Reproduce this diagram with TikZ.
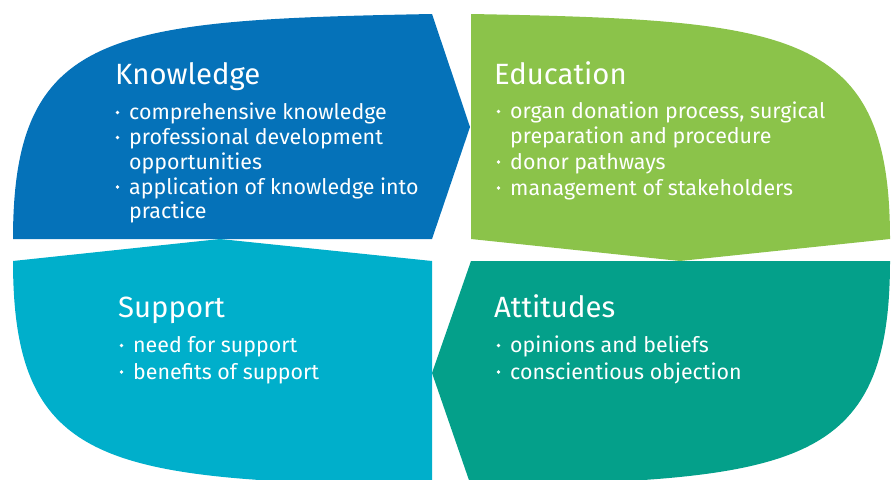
\documentclass[tikz,border=0pt]{standalone}
\usepackage{fontspec}
\setmainfont{Fira Sans}

\definecolor{knowblue}{RGB}{5,114,185}
\definecolor{edugreen}{RGB}{139,195,74}
\definecolor{attteal}{RGB}{4,160,138}
\definecolor{suppcyan}{RGB}{0,175,203}

\newcommand\lines[1]{\begin{tabular}[t]{@{}l@{}}#1\end{tabular}}
% name, x, baseline y, text
\newcommand\bitem[4]{%
  \node[item] (#1) at (#2,#3) {\lines{#4}};
  \fill[dot] ([shift={(-11.5,-7)}]#1.base west) circle (1.8);
}

\begin{document}
\begin{tikzpicture}[x=1pt,y=-1pt,
  title/.style={anchor=base west,inner sep=0pt,text=white,font=\fontsize{29.3}{31}\selectfont},
  item/.style={anchor=base west,inner sep=0pt,text=white,font=\fontsize{21.4}{24.5}\selectfont},
  dot/.style={fill=white}
]
\useasboundingbox (0,0) rectangle (891,479);
\clip (0,0) rectangle (891,479);

% the four panels
\fill[knowblue] (13,239) .. controls (13,30) and (110,20) .. (432,14)
  -- (470,127) -- (432,239) -- cycle;
\fill[edugreen] (471,14) .. controls (793,20) and (890,30) .. (890,239)
  -- (680,261) -- (471,239) -- cycle;
\fill[attteal] (471,261) -- (890,261) .. controls (890,470) and (793,480) .. (471,486)
  -- (432,373) -- cycle;
\fill[suppcyan] (13,261) -- (220,239) -- (432,261) -- (432,486)
  .. controls (110,480) and (13,470) .. cycle;

% Knowledge
\node[title] (know) at (115,84) {Knowledge};
\bitem{know1}{129}{119.5}{comprehensive knowledge}
\bitem{know2}{129}{144.5}{professional development\\opportunities}
\bitem{know3}{129}{194}{application of knowledge into\\practice}

% Education
\node[title] (edu) at (494,84) {Education};
\bitem{edu1}{510}{118.5}{organ donation process, surgical\\preparation and procedure}
\bitem{edu2}{510}{169}{donor pathways}
\bitem{edu3}{510}{195}{management of stakeholders}

% Support
\node[title] (supp) at (118,317) {Support};
\bitem{supp1}{133}{352.5}{need for support}
\bitem{supp2}{133}{379}{benefits of support}

% Attitudes
\node[title] (att) at (494,317) {Attitudes};
\bitem{att1}{510}{352.5}{opinions and beliefs}
\bitem{att2}{510}{379}{conscientious objection}
\end{tikzpicture}
\end{document}
